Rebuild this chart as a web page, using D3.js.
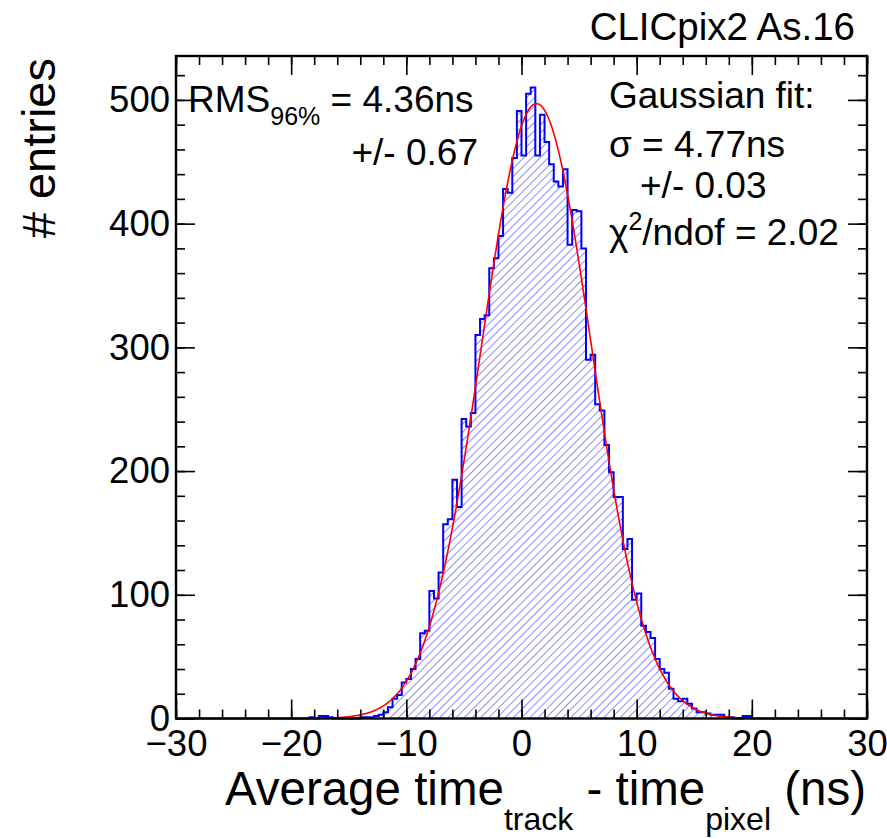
<!DOCTYPE html>
<html>
<head>
<meta charset="utf-8">
<script src="https://cdn.jsdelivr.net/npm/d3@7"></script>
<style>
  body { margin: 0; background: #fff; }
  svg { display: block; font-family: "Liberation Sans", Arial, Helvetica, sans-serif; }
</style>
</head>
<body>
<svg id="canvas" width="887" height="838"></svg>
<script>
// histogram: 150 bins of 0.4 ns from -30 to 30, only the non-empty part is listed
let binStart = -20
let binWidth = 0.4
let counts = [
  0, 0, 0, 0, 1, 0, 2, 2, 1, 0,
  0, 0, 0, 0, 0, 1, 1, 1, 2, 3,
  5, 9, 16, 19, 29, 32, 40, 48, 69, 71,
  103, 97, 118, 157, 161, 193, 171, 242, 236, 247,
  310, 323, 326, 364, 372, 390, 428, 425, 453, 491,
  455, 505, 510, 455, 488, 466, 448, 434, 430, 444,
  383, 411, 410, 380, 290, 294, 254, 249, 221, 199,
  179, 179, 137, 145, 96, 101, 75, 70, 65, 48,
  40, 37, 24, 16, 14, 16, 12, 8, 5, 5,
  4, 3, 3, 3, 1, 1, 0, 0, 2, 2
]

// gaussian fit parameters
let fitConstant = 497
let fitMean = 1.3
let fitSigma = 4.77
let fitRange = [-20, 20]

let xMajorTicks = [-30, -20, -10, 0, 10, 20, 30]
let xMinorTicks = d3.range(-30, 31, 2)
let yMajorTicks = [0, 100, 200, 300, 400, 500]
let yMinorTicks = d3.range(0, 521, 20)

let plotLeft = 176, plotRight = 867, plotTop = 56, plotBottom = 718.5

let svg = d3.select('#canvas')

let xScale = d3.scaleLinear().domain([-30, 30]).range([plotLeft, plotRight])
let yScale = d3.scaleLinear().domain([0, 535.5]).range([plotBottom, plotTop])

// hatch fill
let defs = svg.append('defs')
let pattern = defs.append('pattern')
    .attr('id', 'hatch')
    .attr('patternUnits', 'userSpaceOnUse')
    .attr('width', 5.8)
    .attr('height', 5.8)
    .attr('patternTransform', 'rotate(45)')
pattern.append('line')
    .attr('x1', 0).attr('y1', 0)
    .attr('x2', 0).attr('y2', 5.8)
    .attr('stroke', '#0000ff')
    .attr('stroke-width', 0.9)

// build full bin list, padding zeros out to -30..30
let bins = []
for (let i = 0; i < 150; i++) {
    let lo = -30 + i * binWidth
    let k = Math.round((lo - binStart) / binWidth)
    let c = (k >= 0 && k < counts.length) ? counts[k] : 0
    bins.push({lo: lo, hi: lo + binWidth, count: c})
}

let stepPoints = []
bins.forEach((b) => {
    stepPoints.push([b.lo, b.count])
    stepPoints.push([b.hi, b.count])
})

let area = d3.area()
    .x((d) => xScale(d[0]))
    .y0(yScale(0))
    .y1((d) => yScale(d[1]))

let line = d3.line()
    .x((d) => xScale(d[0]))
    .y((d) => yScale(d[1]))

svg.append('path')
    .datum(stepPoints)
    .attr('d', area)
    .attr('fill', 'url(#hatch)')

svg.append('path')
    .datum(stepPoints)
    .attr('d', line)
    .attr('fill', 'none')
    .attr('stroke', '#0000ff')
    .attr('stroke-width', 2)

// fit curve
let fitPoints = d3.range(fitRange[0], fitRange[1] + 0.001, 0.1).map((x) => {
    return [x, fitConstant * Math.exp(-0.5 * Math.pow((x - fitMean) / fitSigma, 2))]
})
svg.append('path')
    .datum(fitPoints)
    .attr('d', d3.line().x((d) => xScale(d[0])).y((d) => yScale(d[1])).curve(d3.curveMonotoneX))
    .attr('fill', 'none')
    .attr('stroke', '#ff0000')
    .attr('stroke-width', 1.6)

// frame + ticks (ROOT style, ticks inside on all four sides)
let minus = (d) => d < 0 ? '\u2212' + Math.abs(d) : String(d)

let axisGroup = (axis, tx, ty) => {
    let g = svg.append('g').attr('transform', `translate(${tx},${ty})`).call(axis)
    g.select('.domain').remove()
    g.selectAll('.tick line').attr('stroke', '#000').attr('stroke-width', 1.6)
    return g
}

axisGroup(d3.axisBottom(xScale).tickValues(xMinorTicks).tickSize(-9).tickFormat(''), 0, plotBottom)
axisGroup(d3.axisTop(xScale).tickValues(xMinorTicks).tickSize(-9).tickFormat(''), 0, plotTop)
axisGroup(d3.axisLeft(yScale).tickValues(yMinorTicks).tickSize(-9).tickFormat(''), plotLeft, 0)
axisGroup(d3.axisRight(yScale).tickValues(yMinorTicks).tickSize(-9).tickFormat(''), plotRight, 0)

let xb = axisGroup(d3.axisBottom(xScale).tickValues(xMajorTicks).tickSize(-19).tickPadding(12).tickFormat(minus), 0, plotBottom)
xb.selectAll('.tick text').attr('font-size', 36.5).attr('fill', '#000').attr('font-family', null)
axisGroup(d3.axisTop(xScale).tickValues(xMajorTicks).tickSize(-19).tickFormat(''), 0, plotTop)
let yl = axisGroup(d3.axisLeft(yScale).tickValues(yMajorTicks).tickSize(-19).tickPadding(6).tickFormat(d3.format('d')), plotLeft, 0)
yl.selectAll('.tick text').attr('font-size', 36.5).attr('fill', '#000').attr('font-family', null)
axisGroup(d3.axisRight(yScale).tickValues(yMajorTicks).tickSize(-19).tickFormat(''), plotRight, 0)

svg.append('rect')
    .attr('x', plotLeft).attr('y', plotTop)
    .attr('width', plotRight - plotLeft).attr('height', plotBottom - plotTop)
    .attr('fill', 'none')
    .attr('stroke', '#000')
    .attr('stroke-width', 2.4)

// titles
svg.append('text')
    .attr('transform', `translate(55,${plotTop + 2}) rotate(-90)`)
    .attr('text-anchor', 'end')
    .attr('font-size', 47)
    .text('# entries')

let xt = svg.append('text')
    .attr('x', 866).attr('y', 805)
    .attr('text-anchor', 'end')
    .attr('font-size', 47.5)
xt.append('tspan').text('Average time')
xt.append('tspan').attr('font-size', 32).attr('dy', 25).text('track')
xt.append('tspan').attr('dy', -25).text(' - time')
xt.append('tspan').attr('font-size', 32).attr('dy', 25).text('pixel')
xt.append('tspan').attr('dy', -25).text(' (ns)')

svg.append('text')
    .attr('x', 855).attr('y', 40)
    .attr('text-anchor', 'end')
    .attr('font-size', 38.5)
    .text('CLICpix2 As.16')

// annotations
let rms = svg.append('text').attr('x', 188).attr('y', 112).attr('font-size', 37)
rms.append('tspan').text('RMS')
rms.append('tspan').attr('font-size', 25).attr('dy', 13).text('96%')
rms.append('tspan').attr('dy', -13).text(' = 4.36ns')

svg.append('text').attr('x', 478).attr('y', 165).attr('text-anchor', 'end')
    .attr('font-size', 37).text('+/- 0.67')

svg.append('text').attr('x', 609).attr('y', 108).attr('font-size', 37).text('Gaussian fit:')
svg.append('text').attr('x', 609).attr('y', 157).attr('font-size', 37).text('\u03c3 = 4.77ns')
svg.append('text').attr('x', 640).attr('y', 198).attr('font-size', 37).text('+/- 0.03')
let chi = svg.append('text').attr('x', 609).attr('y', 245).attr('font-size', 37)
chi.append('tspan').text('\u03c7')
chi.append('tspan').attr('font-size', 25).attr('dy', -15).text('2')
chi.append('tspan').attr('dy', 15).text('/ndof = 2.02')
</script>
</body>
</html>
